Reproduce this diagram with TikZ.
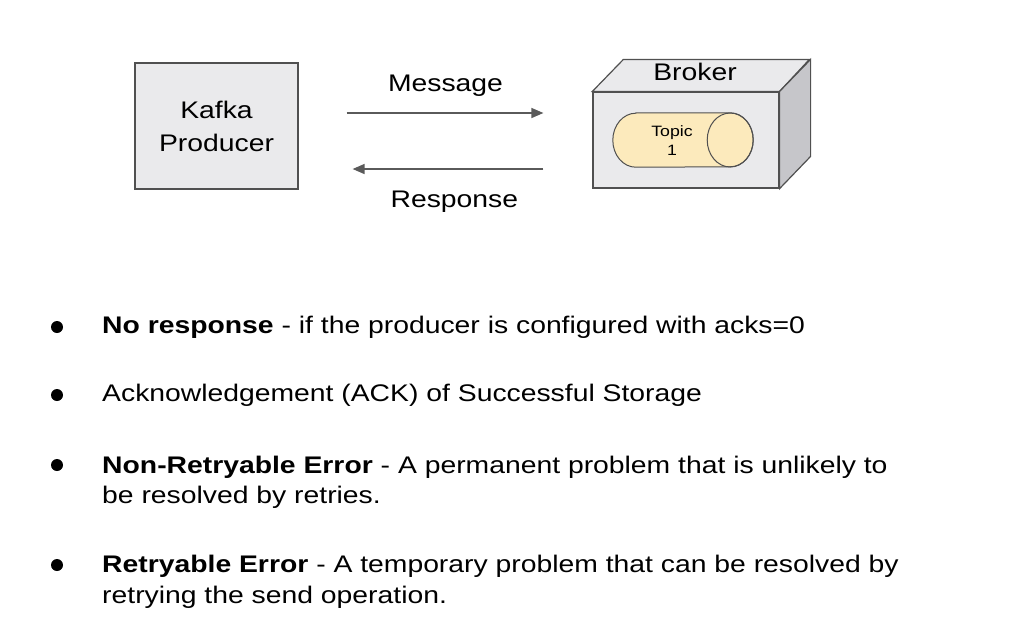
\documentclass[tikz,border=0pt]{standalone}
\usepackage{fontspec}
\setmainfont{Liberation Sans}[FakeStretch=1.18]
\usetikzlibrary{arrows.meta, positioning, calc}
\definecolor{boxgray}{RGB}{234, 234, 236}
\definecolor{sidegray}{RGB}{198, 198, 202}
\definecolor{edgegray}{RGB}{80, 80, 80}
\definecolor{arrowgray}{RGB}{90, 90, 90}
\definecolor{topicyellow}{RGB}{252, 234, 188}

\begin{document}
\begin{tikzpicture}[
    x=1pt, y=-1pt,
    block/.style={rectangle, draw=edgegray, line width=1.2pt, fill=boxgray, inner sep=0pt, align=center, font=\fontsize{24}{33}\selectfont},
    topic/.style={rectangle, inner sep=0pt, minimum width=140pt, minimum height=54pt},
    face/.style={draw=edgegray, line width=1.2pt},
    label/.style={font=\fontsize{24}{33}\selectfont},
    point/.style={circle, fill=black, inner sep=0pt, minimum size=12pt},
    item/.style={anchor=base west, align=left, inner sep=0pt, font=\fontsize{24}{31}\selectfont},
    arrow/.style={-{Triangle[length=12pt, width=10pt]}, line width=1.4pt, draw=arrowgray}
]
    \useasboundingbox (0,0) rectangle (1011,641);

    % Producer
    \node[block, minimum width=163pt, minimum height=126pt] (producer) at (216.5, 126) {Kafka\\Producer};

    % Broker (front face, then top and side)
    \node[block, minimum width=186pt, minimum height=96pt] (broker) at (686, 140) {};
    \draw[face, fill=boxgray] (broker.north west) -- ++(31,-32) -- ++(186,0) -- (broker.north east) -- cycle;
    \draw[face, fill=sidegray] (broker.north east) -- ++(31,-32) -- ++(0,97) -- (broker.south east) -- cycle;
    \node[label] (brokerlabel) at (695, 72) {Broker};

    % Topic inside broker
    \node[topic] (topic) at (683, 140) {};
    \draw[draw=edgegray, line width=1pt, fill=topicyellow]
        ($(topic.north west)+(23,0)$) -- ($(topic.north east)+(-23,0)$) arc (-90:90:23 and 27)
        -- ($(topic.south west)+(23,0)$) arc (90:270:23 and 27) -- cycle;
    \draw[draw=edgegray, line width=1pt] ($(topic.east)+(-23,0)$) ellipse (23 and 27);
    \node[font=\fontsize{15}{19}\selectfont, align=center] (topiclabel) at (672, 141) {Topic\\1};

    % Message / Response
    \draw[arrow, shorten <=48pt, shorten >=49pt] ([yshift=13pt]producer.east) -- ([yshift=13pt]producer.east -| broker.west)
        node[label, midway, above=12pt] (message) {Message};
    \draw[arrow, shorten <=49pt, shorten >=54pt] ([yshift=-43pt]producer.east -| broker.west) -- ([yshift=-43pt]producer.east)
        node[label, pos=0.47, below=18pt] (response) {Response};

    % Bullets
    \node[point] (b1) at (57, 327) {};
    \node[item] (t1) at (102, 333) {\textbf{No response} - if the producer is configured with acks=0};
    \node[point] (b2) at (57, 395) {};
    \node[item] (t2) at (102, 401) {Acknowledgement (ACK) of Successful Storage};
    \node[point] (b3) at (57, 465) {};
    \node[item, font=\fontsize{24}{30}\selectfont] (t3) at (102, 503) {\textbf{Non-Retryable Error} - A permanent problem that is unlikely to\\be resolved by retries.};
    \node[point] (b4) at (57, 565) {};
    \node[item] (t4) at (102, 603) {\textbf{Retryable Error} - A temporary problem that can be resolved by\\retrying the send operation.};

\end{tikzpicture}
\end{document}
